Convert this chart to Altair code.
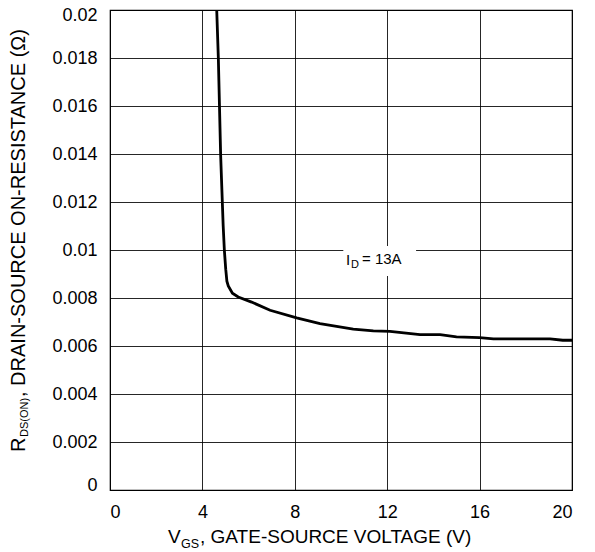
import altair as alt
import pandas as pd

vgs = [4.62, 4.69, 4.79, 4.90, 4.95, 5.01, 5.06, 5.12, 5.30, 5.55, 6.13, 6.93, 8.08, 9.09,
       10.53, 11.40, 12.12, 13.42, 14.29, 15.00, 16.00, 16.60, 19.05, 19.60, 20.00]
rds = [0.0200, 0.0180, 0.01395, 0.0110, 0.0100, 0.0092, 0.0087, 0.0085, 0.0082, 0.00804,
       0.00783, 0.00749, 0.00717, 0.00693, 0.00670, 0.00663, 0.00661, 0.00647, 0.00647,
       0.00638, 0.00635, 0.00630, 0.00630, 0.00624, 0.00624]

x_ticks = [0, 4, 8, 12, 16, 20]
y_ticks = [0, 0.002, 0.004, 0.006, 0.008, 0.01, 0.012, 0.014, 0.016, 0.018, 0.02]

label_box = {"x1": [10.1], "x2": [13.25], "y1": [0.00892], "y2": [0.01017]}

FONT = "Liberation Sans"

df = pd.DataFrame({"vgs": vgs, "rds": rds})
box = pd.DataFrame(label_box)
one = pd.DataFrame({"k": [0]})

xs = alt.Scale(domain=[0, 20], nice=False, zero=False)
ys = alt.Scale(domain=[0, 0.02], nice=False, zero=False)

x_axis = alt.Axis(values=x_ticks, format="d", title=None, grid=True, ticks=False,
                  domain=False, labelPadding=13, labelFontSize=18, labelFont=FONT,
                  labelColor="black", gridColor="black", gridOpacity=0.85, gridWidth=1)
y_axis = alt.Axis(values=y_ticks, format=".3~f", title=None, grid=True, ticks=False,
                  domain=False, labelPadding=13, labelFontSize=18, labelFont=FONT,
                  labelColor="black", gridColor="black", gridOpacity=0.85, gridWidth=1,
                  labelOffset={"condition": [
                      {"test": "datum.value >= 0.0199", "value": 5.5},
                      {"test": "datum.value <= 0.0001", "value": -4.5},
                  ], "value": 0.5})

curve = alt.Chart(df).mark_line(color="black", strokeWidth=2.8, clip=True).encode(
    x=alt.X("vgs:Q", scale=xs, axis=x_axis),
    y=alt.Y("rds:Q", scale=ys, axis=y_axis),
    order="vgs:Q",
)

rect = alt.Chart(box).mark_rect(color="white").encode(
    x=alt.X("x1:Q", scale=xs), x2="x2:Q",
    y=alt.Y("y1:Q", scale=ys), y2="y2:Q",
)


def txt(text, x, y, size, angle=0):
    return alt.Chart(one).mark_text(
        text=text, font=FONT, fontSize=size, color="black", align="left",
        baseline="alphabetic", angle=angle,
    ).encode(x=alt.value(x), y=alt.value(y))


annot = [
    txt("I", 236, 255, 15),
    txt("D", 241, 258, 11),
    txt("= 13A", 252, 254, 15),
    # x-axis title
    txt("V", 58, 533, 19),
    txt("GS", 71, 538, 12.5),
    txt(", GATE-SOURCE VOLTAGE (V)", 90, 533, 19),
    # y-axis title (rotated)
    txt("R", -85, 442, 20, 270),
    txt("DS(ON)", -82, 427, 11, 270),
    txt(", DRAIN-SOURCE ON-RESISTANCE (\u03a9)", -85, 387, 20, 270),
]

chart = alt.layer(rect, curve, *annot).properties(
    width=462, height=480,
    autosize=alt.AutoSizeParams(type="none"),
    padding={"left": 102, "top": 2, "right": 15, "bottom": 60},
).configure_view(stroke="black", strokeWidth=1.2)

chart.save("out.html", embed_options={"renderer": "svg", "actions": False})
